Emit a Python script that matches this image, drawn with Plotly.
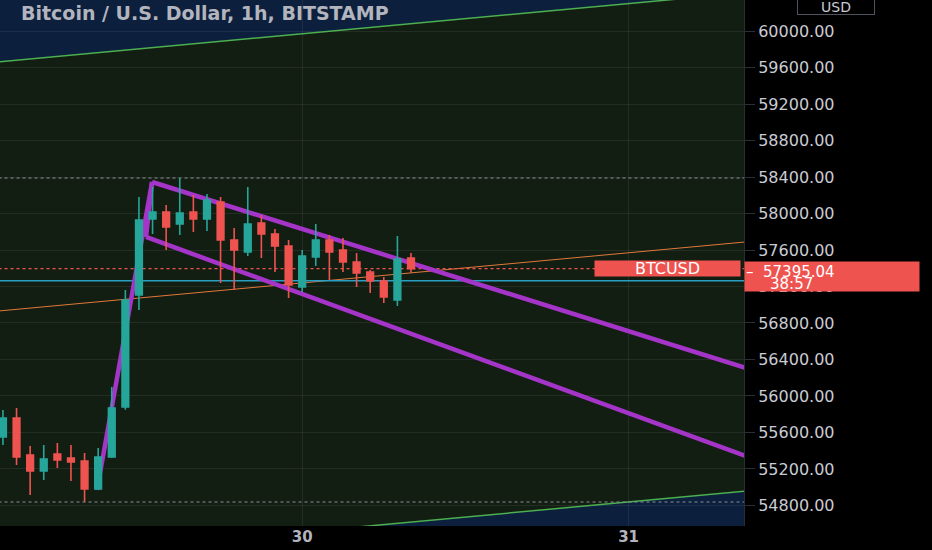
import pandas as pd
import plotly.graph_objects as go

# -----------------------------------------------------------------------------------------------------------------------------------------
# 1h candles, BITSTAMP BTC/USD, 2021-03-29 02:00 -> 2021-03-30 08:00
times = pd.date_range("2021-03-29 02:00", periods=31, freq="h")
opens = [55550, 55759, 55353, 55178, 55364, 55320, 55287, 54981, 55331, 55879, 57107,
         57940, 58016, 57885, 58016, 57940, 58126, 57710, 57578, 57896, 57775, 57644,
         57195, 57523, 57710, 57600, 57468, 57359, 57260, 57052, 57512]
highs = [55846, 55868, 55452, 55463, 55485, 55463, 55375, 55430, 56098, 57162, 58181,
         58290, 58093, 58389, 58203, 58214, 58181, 57841, 58290, 57984, 57830, 57710,
         57600, 57885, 57764, 57732, 57567, 57381, 57304, 57753, 57567]
lows = [55463, 55244, 54915, 55079, 55211, 55068, 54838, 54970, 55320, 55850, 56942,
        57775, 57600, 57764, 57797, 57808, 57238, 57162, 57534, 57512, 57359, 57074,
        57140, 57425, 57271, 57359, 57195, 57129, 57019, 56986, 57348]
closes = [55759, 55331, 55178, 55309, 55298, 55276, 54981, 55331, 55868, 57052, 57929,
          58016, 57852, 58006, 57940, 58148, 57710, 57600, 57885, 57775, 57644, 57216,
          57534, 57710, 57578, 57468, 57348, 57260, 57085, 57501, 57395.04]

last_price = 57395.04
countdown = "38:57"
hline_level = 57263

# parallel channel (upper / middle / lower)
channel_t = ["2021-03-28 12:00", "2021-03-31 12:00"]
channel_top = [59474, 60466]
channel_mid = [56743, 57735]
channel_bot = [54012, 55004]

# bull flag drawing
flag_top_t = ["2021-03-29 08:55", "2021-03-29 12:58", "2021-03-31 10:00"]
flag_top_p = [54970, 58345, 56243]
flag_bot_t = ["2021-03-29 12:58", "2021-03-29 12:31", "2021-03-31 10:00"]
flag_bot_p = [58345, 57743, 55266]

price_ticks = list(range(54800, 60001, 400))
date_ticks = ["2021-03-30", "2021-03-31"]
date_labels = ["30", "31"]

# -----------------------------------------------------------------------------------------------------------------------------------------
GREEN = '#26a69a'
RED = '#ef5350'
PURPLE = '#a535c8'
TXT = '#c9ccd4'

fig = go.Figure()

fig.add_trace(go.Candlestick(
    x=times, open=opens, high=highs, low=lows, close=closes,
    increasing=dict(line=dict(color=GREEN, width=1.6), fillcolor=GREEN),
    decreasing=dict(line=dict(color=RED, width=1.6), fillcolor=RED),
    whiskerwidth=0,
))

# channel fill, under the grid
d = lambda s: s.replace(' ', '_')
fig.add_shape(
    type='path', layer='below', line_width=0, fillcolor='#131e13',
    path='M {},{} L {},{} L {},{} L {},{} Z'.format(
        d(channel_t[0]), channel_top[0], d(channel_t[1]), channel_top[1],
        d(channel_t[1]), channel_bot[1], d(channel_t[0]), channel_bot[0]))

# channel lines
for ys, col, w in [(channel_top, '#4caf50', 1.5), (channel_bot, '#4caf50', 1.5), (channel_mid, '#e0783a', 1)]:
    fig.add_shape(type='line', layer='between', x0=channel_t[0], x1=channel_t[1], y0=ys[0], y1=ys[1],
                  line=dict(color=col, width=w))

# high / low / last price / horizontal line
for lvl, col, dash, w in [(max(highs), '#8a8f99', 'dot', 1), (min(lows), '#8a8f99', 'dot', 1),
                          (last_price, RED, 'dot', 1.2), (hline_level, '#2a9fc4', 'solid', 1.3)]:
    fig.add_shape(type='line', layer='between', x0=channel_t[0], x1=channel_t[1], y0=lvl, y1=lvl,
                  line=dict(color=col, dash=dash, width=w))

# flag
for ts, ps in [(flag_top_t, flag_top_p), (flag_bot_t, flag_bot_p)]:
    for i in range(len(ts) - 1):
        fig.add_shape(type='line', layer='between', x0=ts[i], x1=ts[i + 1], y0=ps[i], y1=ps[i + 1],
                      line=dict(color=PURPLE, width=4.5))

fig.update_layout(
    width=932, height=550,
    margin=dict(l=0, r=188, t=0, b=24),
    paper_bgcolor='#000000',
    plot_bgcolor='#0c1f3c',
    showlegend=False,
    font=dict(family='DejaVu Sans', color=TXT),
)
fig.update_xaxes(
    range=["2021-03-29 01:47", "2021-03-31 08:29"],
    rangeslider_visible=False,
    tickvals=date_ticks, ticktext=date_labels,
    tickfont=dict(size=15, color='#b2b5be', family='DejaVu Sans', weight='bold'),
    showgrid=True, gridcolor='rgba(255,255,255,0.07)', zeroline=False,
    ticks='', showline=False,
)
fig.update_yaxes(
    side='right', range=[54575, 60340],
    tickvals=price_ticks, tickformat='.2f',
    tickfont=dict(size=16, color=TXT, family='DejaVu Sans'),
    showgrid=True, gridcolor='rgba(255,255,255,0.07)', zeroline=False,
    ticks='outside', ticklen=10, tickcolor='#2a2e39',
    showline=True, linecolor='#2a2e39', linewidth=1,
)

# legend title
fig.add_annotation(
    text='Bitcoin / U.S. Dollar, 1h, BITSTAMP', xref='paper', yref='paper',
    x=0.026, y=0.976, xanchor='left', yanchor='middle', showarrow=False,
    font=dict(size=19, color='#b2b5be', family='DejaVu Sans', weight='bold'))
# currency box
fig.add_annotation(
    text='USD', xref='paper', yref='paper', x=1.124, y=0.987,
    xanchor='center', yanchor='middle',
    showarrow=False, font=dict(size=14, color=TXT),
    bordercolor='#50535e', borderwidth=1, borderpad=0, width=76, height=14)
# symbol label on the last price line
fig.add_annotation(
    text='BTCUSD', xref='paper', yref='y', x=0.996, y=last_price,
    xanchor='right', yanchor='middle', showarrow=False,
    font=dict(size=16, color='#ffffff'), bgcolor=RED, width=145, height=15, borderpad=0)
# price label box + countdown
fig.add_annotation(
    text='\u2013  {:.2f}'.format(last_price),
    xref='paper', yref='y', x=1.0, y=last_price, yshift=8,
    xanchor='left', yanchor='top', showarrow=False, align='left', valign='top',
    font=dict(size=15, color='#ffffff'), bgcolor=RED, width=172, height=27, borderpad=1)
fig.add_annotation(
    text=countdown,
    xref='paper', yref='y', x=1.0, y=last_price, xshift=24, yshift=-15,
    xanchor='left', yanchor='middle', showarrow=False,
    font=dict(size=15, color='#ffffff'))

fig.write_html("out.html", config={'displayModeBar': False},
               post_script="document.body.style.margin='0';")
